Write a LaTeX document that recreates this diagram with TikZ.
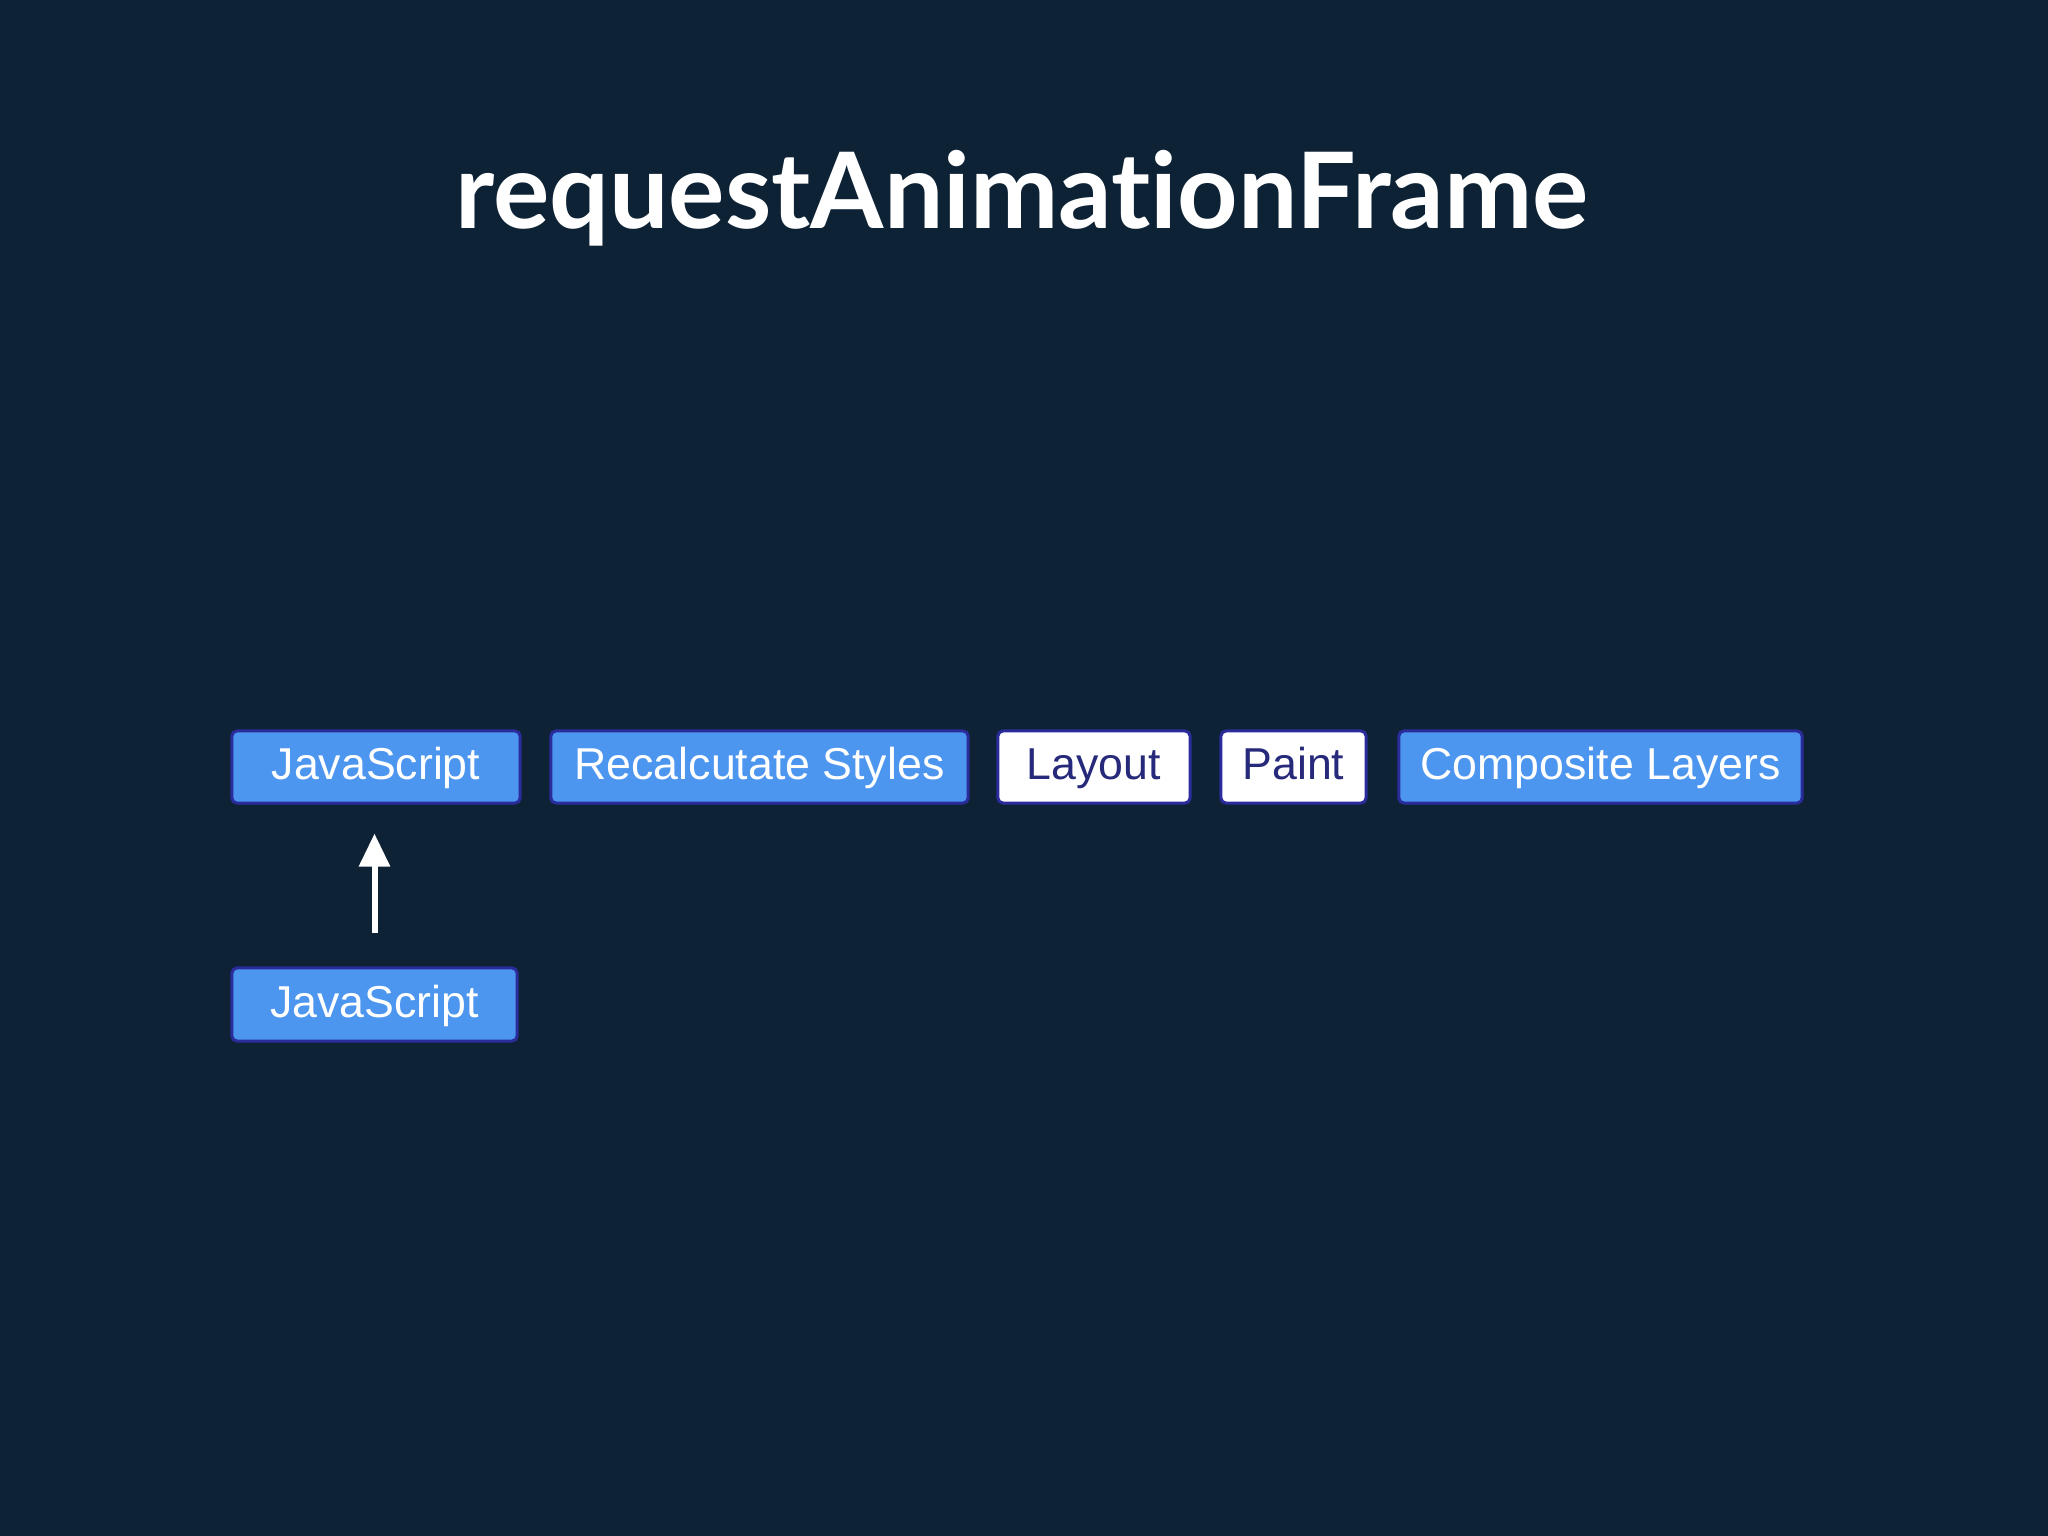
\documentclass[tikz,border=0pt]{standalone}
\usepackage{fontspec}
\setmainfont{Liberation Sans}
\newfontfamily\titlefont[Ligatures={NoCommon,NoRare}]{Lato}
\usetikzlibrary{arrows.meta}
\definecolor{bg}{HTML}{0E2235}
\definecolor{boxblue}{HTML}{4D96F0}
\definecolor{boxedge}{HTML}{2B2C9C}
\definecolor{navytext}{HTML}{27297A}
\tikzset{
  stagebox/.style={draw=boxedge, line width=0.03cm, rounded corners=0.05cm, minimum height=0.72cm, inner sep=0pt, text height=0.72em, text depth=0pt, font=\fontsize{12.7}{15}\selectfont},
  bluebox/.style={stagebox, fill=boxblue, text=white},
  whitebox/.style={stagebox, fill=white, text=navytext},
  uparrow/.style={draw=white, line width=0.06cm, -{Triangle[width=0.3cm,length=0.33cm]}}
}
\begin{document}
\begin{tikzpicture}[x=0.01cm,y=-0.01cm]
\fill[bg] (0,0) rectangle (2048,1536);
\useasboundingbox (0,0) rectangle (2048,1536);
\node[text=white, font=\titlefont\bfseries\fontsize{30}{36}\selectfont, anchor=base] (title) at (1022,228) {requestAnimat\kern0pt ionFrame};
\node[bluebox, minimum width=2.88cm] (js1) at (376,767) {JavaScript};
\node[bluebox, minimum width=4.17cm] (recalc) at (759.5,767) {Recalcutate Styles};
\node[whitebox, minimum width=1.92cm] (layout) at (1094,767) {Layout};
\node[whitebox, minimum width=1.45cm] (paint) at (1293.5,767) {Paint};
\node[bluebox, minimum width=4.03cm] (comp) at (1600.5,767) {Composite Layers};
\node[bluebox, minimum width=2.85cm, minimum height=0.73cm] (js2) at (374.5,1004.5) {JavaScript};
\draw[uparrow, shorten <=0.33cm, shorten >=0.29cm] (js2.north) -- (js2.north |- js1.south);
\end{tikzpicture}
\end{document}
